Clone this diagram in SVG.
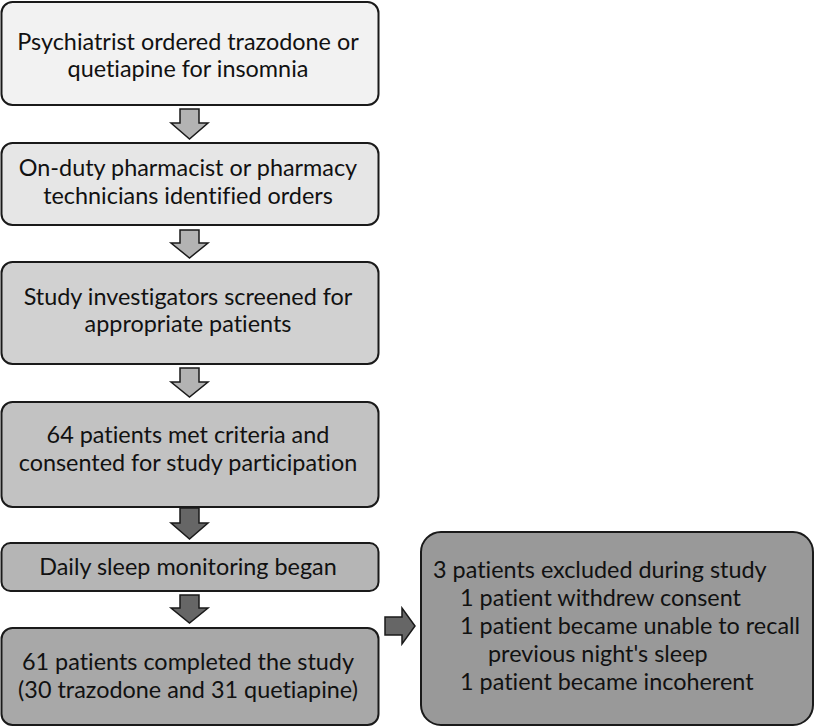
<svg xmlns="http://www.w3.org/2000/svg" width="815" height="727" viewBox="0 0 815 727">
<style>
.box{stroke:#1a1a1a;stroke-width:2}
.t{font-family:Lato,"Liberation Sans",sans-serif;font-size:23.4px;fill:#111;font-variant-ligatures:none}
.c{text-anchor:middle}
.al{fill:#b3b3b3;stroke:#1a1a1a;stroke-width:1.5}
.ad{fill:#666;stroke:#1a1a1a;stroke-width:1.5}
</style>
<rect width="815" height="727" fill="#fff"/>
<g id="n1"><rect class="box" x="1.5" y="2" width="377" height="103" rx="11" fill="#f2f2f2"/>
<text class="t c" x="188" y="50">Psychiatrist ordered trazodone or</text>
<text class="t c" x="188" y="77">quetiapine for insomnia</text></g>
<g id="n2"><rect class="box" x="1.5" y="143" width="377" height="82" rx="11" fill="#e6e6e6"/>
<text class="t c" x="188" y="176">On-duty pharmacist or pharmacy</text>
<text class="t c" x="188" y="204">technicians identified orders</text></g>
<g id="n3"><rect class="box" x="1.5" y="262" width="377" height="102" rx="11" fill="#d1d1d1"/>
<text class="t c" x="188" y="305">Study investigators screened for</text>
<text class="t c" x="188" y="332">appropriate patients</text></g>
<g id="n4"><rect class="box" x="1.5" y="402" width="377" height="105" rx="11" fill="#c2c2c2"/>
<text class="t c" x="188" y="443">64 patients met criteria and</text>
<text class="t c" x="188" y="471">consented for study participation</text></g>
<g id="n5"><rect class="box" x="1.5" y="543" width="377" height="48" rx="9" fill="#b5b5b5"/>
<text class="t c" x="188" y="575">Daily sleep monitoring began</text></g>
<g id="n6"><rect class="box" x="1.5" y="628" width="377" height="97" rx="11" fill="#a8a8a8"/>
<text class="t c" x="188" y="670">61 patients completed the study</text>
<text class="t c" x="188" y="698">(30 trazodone and 31 quetiapine)</text></g>
<g id="n7"><rect class="box" x="421" y="532" width="392" height="193" rx="20" fill="#999"/>
<text class="t" x="433" y="578">3 patients excluded during study</text>
<text class="t" x="460" y="606">1 patient withdrew consent</text>
<text class="t" x="460" y="634">1 patient became unable to recall</text>
<text class="t" x="488" y="662">previous night's sleep</text>
<text class="t" x="460" y="690">1 patient became incoherent</text></g>
<g id="connectors">
<polygon class="al" points="180,109 199,109 199,123 208,123 189.5,139 171,123 180,123"/>
<polygon class="al" points="180,230 199,230 199,243 208,243 189.5,258 171,243 180,243"/>
<polygon class="al" points="180,368 199,368 199,382 208,382 189.5,397 171,382 180,382"/>
<polygon class="ad" points="180,508 199,508 199,523 208,523 189.5,539 171,523 180,523"/>
<polygon class="ad" points="180,595 199,595 199,608 208,608 189.5,623 171,608 180,608"/>
<polygon class="ad" points="385,617 402,617 402,608 415,626 402,644 402,635 385,635"/>
</g>
</svg>
